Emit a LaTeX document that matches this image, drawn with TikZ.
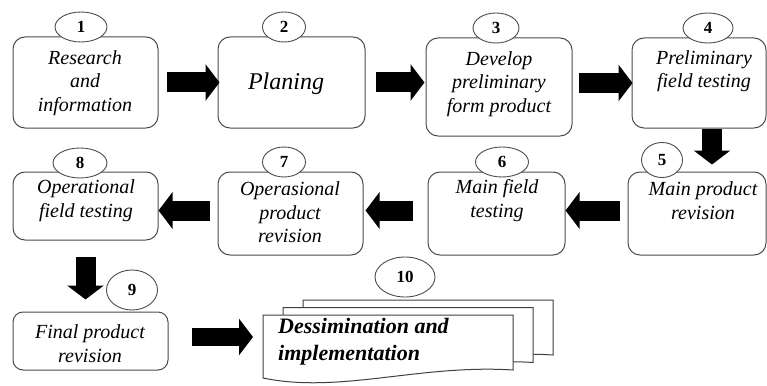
\documentclass[tikz,border=0pt]{standalone}
\usepackage{fontspec}
\setmainfont{Liberation Serif}
\usetikzlibrary{arrows.meta,shapes.geometric,calc}

\begin{document}
\begin{tikzpicture}[x=1pt,y=-1pt,
  stepbox/.style={draw=black!70, line width=1pt, rounded corners=12pt,
    inner sep=0pt, fill=white},
  steptext/.style={inner sep=0pt, align=center,
    font=\fontsize{20}{23.5}\selectfont\itshape},
  numtag/.style={draw=black!70, line width=0.9pt, ellipse, fill=white,
    inner sep=0pt, font=\fontsize{17}{17}\selectfont\bfseries},
  blockarrow/.style={draw=black, line width=20pt,
    -{Triangle[length=14pt,width=36pt]}},
  docpage/.style={draw=black!75, line width=1pt, fill=white},
]
\useasboundingbox (0,0) rectangle (767,385);

% ---- row 1 ----
\node[stepbox, minimum width=145pt, minimum height=91pt] (b1) at (85.5,82.5) {};
\node[stepbox, minimum width=147pt, minimum height=91pt] (b2) at (291.5,82.5) {};
\node[stepbox, minimum width=146pt, minimum height=98pt] (b3) at (499,87) {};
\node[stepbox, minimum width=134pt, minimum height=90pt] (b4) at (699,83) {};

% ---- row 2 ----
\node[stepbox, minimum width=138pt, minimum height=83pt] (b5) at (697,213.5) {};
\node[stepbox, minimum width=137pt, minimum height=83pt] (b6) at (496.5,213.5) {};
\node[stepbox, minimum width=145pt, minimum height=83pt] (b7) at (290.5,213.5) {};
\node[stepbox, minimum width=145pt, minimum height=68pt] (b8) at (85.5,206) {};

% ---- row 3 ----
\node[stepbox, rounded corners=10pt, minimum width=155pt, minimum height=58pt] (b9) at (90.5,341) {};

% ---- step texts ----
\node[steptext] (t1) at (85,83) {Research\\and\\information};
\node[steptext, font=\fontsize{24}{28}\selectfont\itshape] (t2) at (286,84) {Planing};
\node[steptext] (t3) at (499,84) {Develop\\preliminary\\form product};
\node[steptext] (t4) at (704,71) {Preliminary\\field testing};
\node[steptext] (t5) at (703,200.5) {Main product\\revision};
\node[steptext] (t6) at (497,200.5) {Main field\\testing};
\node[steptext] (t7) at (290,212.5) {Operasional\\product\\revision};
\node[steptext] (t8) at (86,200.5) {Operational\\field testing};
\node[steptext] (t9) at (90,343.5) {Final product\\revision};

% ---- stacked document for the last step ----
\foreach \dx/\dy in {40/-15, 20/-7.5, 0/0}{
  \draw[docpage, shift={(\dx,\dy)}] (263,315) -- (513,315) -- (513,370)
    .. controls (420,364) and (340,394) .. (263,378) -- cycle;
}
\coordinate (doc) at (263,337);
\node[inner sep=0pt, anchor=west, align=left,
  font=\fontsize{22}{27}\selectfont\bfseries\itshape] (t10) at (278,341.5)
  {Dessimination and\\implementation};

% ---- step numbers ----
\node[numtag, minimum width=52pt, minimum height=30pt] (n1) at (81,27) {1};
\node[numtag, minimum width=43pt, minimum height=30pt] (n2) at (284,27) {2};
\node[numtag, minimum width=46pt, minimum height=30pt] (n3) at (496,28) {3};
\node[numtag, minimum width=50pt, minimum height=30pt] (n4) at (708,28) {4};
\node[numtag, minimum width=41pt, minimum height=35pt] (n5) at (662,160) {5};
\node[numtag, minimum width=53pt, minimum height=30pt] (n6) at (502,162) {6};
\node[numtag, minimum width=43pt, minimum height=30pt] (n7) at (284,162) {7};
\node[numtag, minimum width=54pt, minimum height=30pt] (n8) at (80,163) {8};
\node[numtag, minimum width=51pt, minimum height=40pt] (n9) at (132,290) {9};
\node[numtag, minimum width=60pt, minimum height=40pt] (n10) at (405,277) {10};

% ---- flow arrows ----
\draw[blockarrow] ([xshift=8pt]b1.east) -- ([xshift=2pt]b2.west);
\draw[blockarrow] ([xshift=10pt]b2.east) -- ($(b3.west |- b2.east)+(-1,0)$);
\draw[blockarrow] ($(b3.east |- b4.west)+(6,0)$) -- ([xshift=1pt]b4.west);
\draw[blockarrow] ([xshift=13pt]b4.south) -- ([xshift=15pt,yshift=7pt]b5.north);
\draw[blockarrow] ($(b5.west)+(-8,-3)$) -- ($(b6.east)+(0,-3)$);
\draw[blockarrow] ($(b6.west)+(-15,-3)$) -- ($(b7.east)+(2,-3)$);
\draw[blockarrow] ($(b7.west)+(-8,-3)$) -- ($(b8.east |- b7.west)+(0,-3)$);
\draw[blockarrow] ([yshift=-16pt]b8.south) -- ($(b8.south |- b9.north)+(0,-12)$);
\draw[blockarrow, line width=18pt] ($(b9.east)+(23,-4)$) -- ([xshift=-10pt]doc);

\end{tikzpicture}
\end{document}
